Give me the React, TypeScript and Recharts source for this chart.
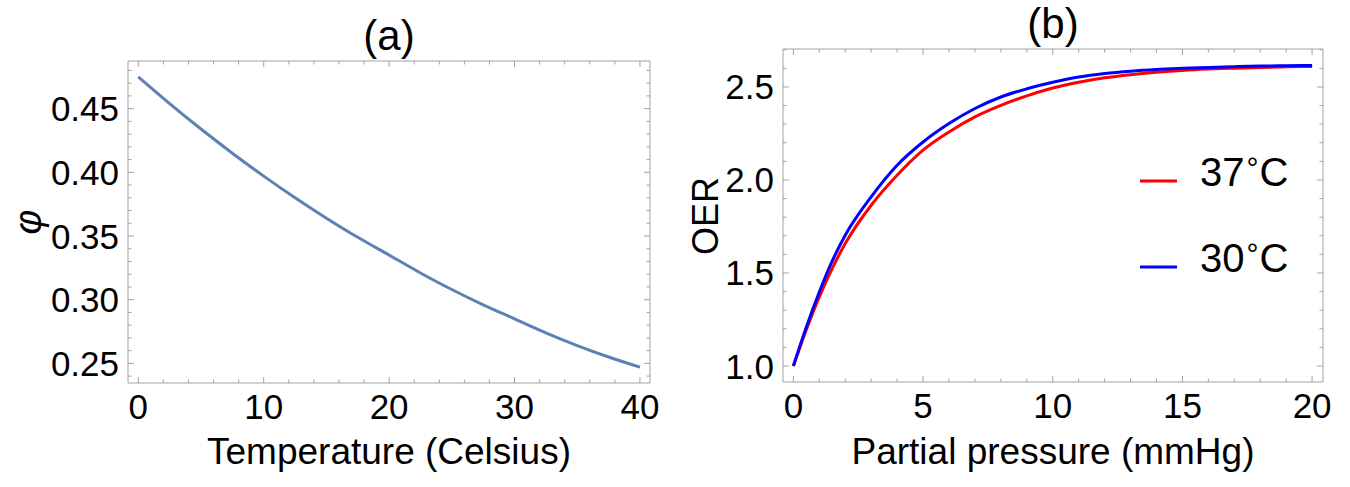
import React from 'react';
import { LineChart, Line, XAxis, YAxis, Legend } from 'recharts';

// ---------- data ----------
const tempC = [0, 2.5, 5, 7.5, 10, 12.5, 15, 17.5, 20, 22.5, 25, 27.5, 30, 32.5, 35, 37.5, 40];
const phi = [0.475, 0.454, 0.434, 0.415, 0.397, 0.38, 0.364, 0.349, 0.335, 0.321, 0.308, 0.296, 0.285, 0.274, 0.264, 0.255, 0.247];

const pressure = [0, 0.5, 1, 1.5, 2, 3, 4, 5, 6, 7, 8, 9, 10, 11, 12, 13, 14, 15, 16, 17, 18, 19, 20];
const oer37 = [1.0, 1.195, 1.371, 1.525, 1.658, 1.864, 2.025, 2.16, 2.258, 2.339, 2.401, 2.452, 2.494, 2.525, 2.549, 2.566, 2.579, 2.589, 2.596, 2.601, 2.605, 2.608, 2.61];
const oer30 = [1.0, 1.21, 1.398, 1.565, 1.703, 1.909, 2.079, 2.204, 2.303, 2.384, 2.446, 2.49, 2.525, 2.553, 2.572, 2.585, 2.594, 2.6, 2.605, 2.609, 2.612, 2.614, 2.615];

const seriesNames = ['37°C', '30°C'];

// ticks
const tempTicks = [0, 2, 4, 6, 8, 10, 12, 14, 16, 18, 20, 22, 24, 26, 28, 30, 32, 34, 36, 38, 40];
const tempLabels = [0, 10, 20, 30, 40];
const phiTicks = [0.24, 0.25, 0.26, 0.27, 0.28, 0.29, 0.3, 0.31, 0.32, 0.33, 0.34, 0.35, 0.36, 0.37, 0.38, 0.39, 0.4, 0.41, 0.42, 0.43, 0.44, 0.45, 0.46, 0.47, 0.48];
const phiLabels = [0.25, 0.3, 0.35, 0.4, 0.45];
const pressTicks = [0, 1, 2, 3, 4, 5, 6, 7, 8, 9, 10, 11, 12, 13, 14, 15, 16, 17, 18, 19, 20];
const pressLabels = [0, 5, 10, 15, 20];
const oerTicks = [1.0, 1.1, 1.2, 1.3, 1.4, 1.5, 1.6, 1.7, 1.8, 1.9, 2.0, 2.1, 2.2, 2.3, 2.4, 2.5, 2.6, 2.7];
const oerLabels = [1.0, 1.5, 2.0, 2.5];

const dataA = tempC.map((t, i) => ({ t, phi: phi[i] }));
const dataB = pressure.map((p, i) => ({ p, a: oer37[i], b: oer30[i] }));

// ---------- styling ----------
const FONT = '"Liberation Sans", Arial, Helvetica, sans-serif';
const FRAME = '#a3a3a3';
const MAJOR = 6;
const MINOR = 3.5;
const TICK_FS = 35;

const isMajor = (v: number, labels: number[]) => labels.some((l) => Math.abs(l - v) < 1e-9);

const makeTick = (side: 'bottom' | 'top' | 'left' | 'right', labels: number[], digits: number) =>
  (props: any) => {
    const { x, y, payload } = props;
    const v = Number(payload.value);
    const major = isMajor(v, labels);
    const len = major ? MAJOR : MINOR;
    let line;
    let text = null;
    if (side === 'bottom') {
      line = <line x1={x} y1={y} x2={x} y2={y - len} stroke={FRAME} strokeWidth={1} />;
      if (major)
        text = (
          <text x={x} y={y + 36} textAnchor="middle" fontSize={TICK_FS} fontFamily={FONT} fill="#000">
            {v.toFixed(digits)}
          </text>
        );
    } else if (side === 'top') {
      line = <line x1={x} y1={y} x2={x} y2={y + len} stroke={FRAME} strokeWidth={1} />;
    } else if (side === 'left') {
      line = <line x1={x} y1={y} x2={x + len} y2={y} stroke={FRAME} strokeWidth={1} />;
      if (major)
        text = (
          <text x={x - 9} y={y + 12.5} textAnchor="end" fontSize={TICK_FS} fontFamily={FONT} fill="#000">
            {v.toFixed(digits)}
          </text>
        );
    } else {
      line = <line x1={x} y1={y} x2={x - len} y2={y} stroke={FRAME} strokeWidth={1} />;
    }
    return (
      <g>
        {line}
        {text}
      </g>
    );
  };

const axisCommon = {
  type: 'number' as const,
  allowDataOverflow: true,
  interval: 0 as const,
  tickSize: 0,
  tickMargin: 0,
  tickLine: false,
  axisLine: { stroke: FRAME, strokeWidth: 1 },
};

const LegendContent = (props: any) => {
  const payload = [...(props.payload || [])].sort((p: any, q: any) =>
    String(p.dataKey).localeCompare(String(q.dataKey))
  );
  return (
    <svg width={170} height={140} style={{ overflow: 'visible', display: 'block' }}>
      {payload.map((entry: any, i: number) => {
        const [num, unit] = String(entry.value).split('°');
        return (
          <g key={i} transform={`translate(0, ${i * 86})`}>
            <line x1={0} y1={31} x2={37} y2={31} stroke={entry.color} strokeWidth={3} />
            <text x={60} y={36} fontSize={40} fontFamily={FONT} fill="#000">
              {num}
              <tspan fontSize={30} dx={2} dy={-8}>°</tspan>
              <tspan dx={1} dy={8}>{unit}</tspan>
            </text>
          </g>
        );
      })}
    </svg>
  );
};

export default function App() {
  return (
    <div style={{ position: 'absolute', left: 0, top: 0, width: 1350, height: 487, background: '#fff' }}>
      <div style={{ position: 'absolute', left: 0, top: 0 }}>
        <LineChart width={680} height={487} data={dataA} margin={{ top: 60, right: 29, bottom: 103, left: 127 }}>
          <XAxis {...axisCommon} xAxisId="b" dataKey="t" orientation="bottom" height={1} domain={[-0.82, 40.8]} ticks={tempTicks} tick={makeTick('bottom', tempLabels, 0)} />
          <XAxis {...axisCommon} xAxisId="t" dataKey="t" orientation="top" height={1} domain={[-0.82, 40.8]} ticks={tempTicks} tick={makeTick('top', tempLabels, 0)} />
          <YAxis {...axisCommon} yAxisId="l" orientation="left" width={1} domain={[0.2346, 0.4874]} ticks={phiTicks} tick={makeTick('left', phiLabels, 2)} />
          <YAxis {...axisCommon} yAxisId="r" orientation="right" width={1} domain={[0.2346, 0.4874]} ticks={phiTicks} tick={makeTick('right', phiLabels, 2)} />
          <Line xAxisId="b" yAxisId="l" dataKey="phi" type="natural" stroke="#5E81B5" strokeWidth={3} dot={false} isAnimationActive={false} />
          <Line xAxisId="t" yAxisId="r" dataKey="phi" type="natural" stroke="none" strokeWidth={0} dot={false} isAnimationActive={false} legendType="none" />
        </LineChart>
      </div>
      <div style={{ position: 'absolute', left: 680, top: 0 }}>
        <LineChart width={670} height={487} data={dataB} margin={{ top: 48, right: 26, bottom: 104, left: 102 }}>
          <XAxis {...axisCommon} xAxisId="b" dataKey="p" orientation="bottom" height={1} domain={[-0.4, 20.42]} ticks={pressTicks} tick={makeTick('bottom', pressLabels, 0)} />
          <XAxis {...axisCommon} xAxisId="t" dataKey="p" orientation="top" height={1} domain={[-0.4, 20.42]} ticks={pressTicks} tick={makeTick('top', pressLabels, 0)} />
          <YAxis {...axisCommon} yAxisId="l" orientation="left" width={1} domain={[0.914, 2.704]} ticks={oerTicks} tick={makeTick('left', oerLabels, 1)} />
          <YAxis {...axisCommon} yAxisId="r" orientation="right" width={1} domain={[0.914, 2.704]} ticks={oerTicks} tick={makeTick('right', oerLabels, 1)} />
          <Legend layout="vertical" align="center" verticalAlign="middle" wrapperStyle={{ left: 460, top: 150, width: 170 }} content={LegendContent} />
          <Line xAxisId="b" yAxisId="l" dataKey="a" name={seriesNames[0]} type="monotone" stroke="#FF0000" strokeWidth={3} dot={false} isAnimationActive={false} />
          <Line xAxisId="t" yAxisId="r" dataKey="b" name={seriesNames[1]} type="monotone" stroke="#0000FF" strokeWidth={3} dot={false} isAnimationActive={false} />
        </LineChart>
      </div>
      <svg width={1350} height={487} style={{ position: 'absolute', left: 0, top: 0, pointerEvents: 'none' }}>
        <g fontFamily={FONT} fill="#000">
          <text x={389} y={50} textAnchor="middle" fontSize={42}>(a)</text>
          <text x={1053} y={38} textAnchor="middle" fontSize={42}>(b)</text>
          <text x={389} y={464} textAnchor="middle" fontSize={37}>Temperature (Celsius)</text>
          <text x={1053} y={464} textAnchor="middle" fontSize={37}>Partial pressure (mmHg)</text>
          <text x={0} y={0} textAnchor="middle" fontSize={38} fontStyle="italic" transform="translate(41, 222) rotate(-90)">φ</text>
          <text x={0} y={0} textAnchor="middle" fontSize={36} transform="translate(718, 216) rotate(-90)">OER</text>
        </g>
      </svg>
    </div>
  );
}
